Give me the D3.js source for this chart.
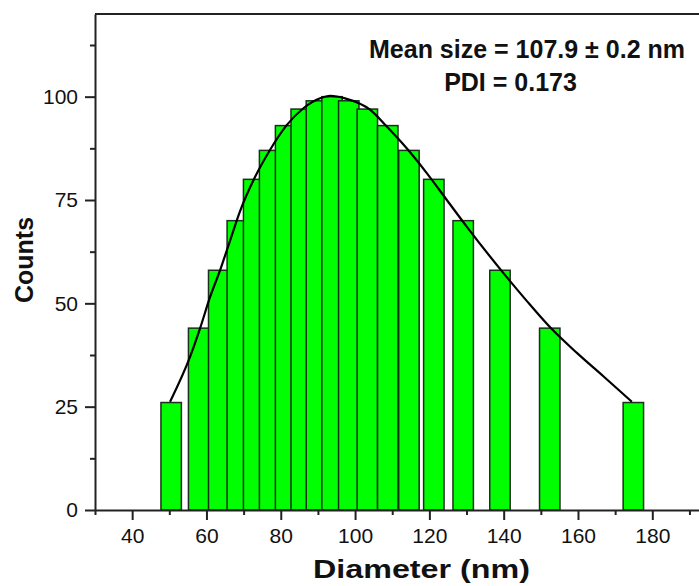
<!DOCTYPE html>
<html>
<head>
<meta charset="utf-8">
<script src="https://d3js.org/d3.v7.min.js"></script>
<style>
body { margin: 0; background: #fff; }
svg { display: block; font-family: Arial, "Liberation Sans", Helvetica, sans-serif; }
.axis text { font-size: 21px; fill: #111; }
.axis path, .axis line { stroke: #222; stroke-width: 2; }
</style>
</head>
<body>
<svg id="chart"></svg>
<script>
// histogram bars: centre diameter (nm) and counts
var barDiameters = [50.5, 57.9, 63.3, 68.3, 72.7, 77.0, 81.3, 85.5, 89.6, 93.8, 98.3, 103.3, 108.8, 114.5, 121.2, 129.1, 139.0, 152.4, 174.9];
var barCounts = [26, 44, 58, 70, 80, 87, 93, 97, 99, 100, 99, 97, 93, 87, 80, 70, 58, 44, 26];
var barWidthNm = 5.5;

// fitted curve, points
var fitDiameters = [50.2, 55.6, 58.3, 61.0, 63.7, 66.4, 69.0, 73.1, 77.1, 81.6, 86.1, 90.6, 93.3, 97.3, 104.1, 108.6, 113.9, 119.3, 124.7, 130.1, 139.5, 146.2, 152.5, 159.7, 166.9, 174.5];
var fitCounts = [26.2, 37.1, 44.0, 51.6, 58.1, 65.3, 72.2, 80.6, 87.1, 93.1, 97.2, 99.6, 100.2, 99.6, 96.8, 92.7, 87.5, 81.5, 75.0, 68.5, 57.8, 50.6, 44.2, 38.0, 32.3, 26.2];

var xMajorTicks = [40, 60, 80, 100, 120, 140, 160, 180];
var xMinorTicks = [30, 50, 70, 90, 110, 130, 150, 170, 190];
var yMajorTicks = [0, 25, 50, 75, 100];
var yMinorTicks = [12.5, 37.5, 62.5, 87.5, 112.5];

var width = 699, height = 586;
var svg = d3.select('#chart').attr('width', width).attr('height', height);

var x = d3.scaleLinear().domain([30, 200]).range([95, 726.6]);
var y = d3.scaleLinear().domain([0, 120]).range([510, 14]);

// bars (drawn left to right so later ones sit over earlier ones)
var bars = barDiameters.map(function(d, i) { return {d: d, c: barCounts[i]}; });
svg.append('g').selectAll('rect').data(bars).join('rect')
  .attr('x', function(b) { return x(b.d - barWidthNm / 2); })
  .attr('width', function(b) { return x(b.d + barWidthNm / 2) - x(b.d - barWidthNm / 2); })
  .attr('y', function(b) { return y(b.c); })
  .attr('height', function(b) { return y(0) - y(b.c); })
  .attr('fill', '#00ff00')
  .attr('stroke', '#1e2e1e')
  .attr('stroke-width', 1.5);

// fit curve
var fit = fitDiameters.map(function(d, i) { return [d, fitCounts[i]]; });
var line = d3.line().x(function(p) { return x(p[0]); }).y(function(p) { return y(p[1]); }).curve(d3.curveMonotoneX);
svg.append('path').datum(fit)
  .attr('fill', 'none').attr('stroke', '#000').attr('stroke-width', 2.2)
  .attr('d', line);

// frame top / right
svg.append('line').attr('x1', x(30)).attr('x2', x(200)).attr('y1', y(120)).attr('y2', y(120))
  .attr('stroke', '#222').attr('stroke-width', 2);
svg.append('line').attr('x1', x(200)).attr('x2', x(200)).attr('y1', y(120)).attr('y2', y(0))
  .attr('stroke', '#222').attr('stroke-width', 2);

// axes
var xAxis = d3.axisBottom(x).tickValues(xMajorTicks).tickSize(10).tickSizeOuter(0).tickPadding(8);
svg.append('g').attr('class', 'axis').attr('transform', 'translate(0,' + y(0) + ')').call(xAxis);
svg.append('g').attr('class', 'axis').attr('transform', 'translate(0,' + y(0) + ')')
  .call(d3.axisBottom(x).tickValues(xMinorTicks).tickSize(5).tickSizeOuter(0).tickFormat(''))
  .select('.domain').remove();

var yAxis = d3.axisLeft(y).tickValues(yMajorTicks).tickSize(10).tickSizeOuter(0).tickPadding(7);
svg.append('g').attr('class', 'axis').attr('transform', 'translate(' + x(30) + ',0)').call(yAxis);
svg.append('g').attr('class', 'axis').attr('transform', 'translate(' + x(30) + ',0)')
  .call(d3.axisLeft(y).tickValues(yMinorTicks).tickSize(5).tickSizeOuter(0).tickFormat(''))
  .select('.domain').remove();

// axis titles
svg.append('text').attr('transform', 'translate(33,260) rotate(-90)')
  .attr('text-anchor', 'middle').attr('font-size', 25).attr('font-weight', 'bold').attr('fill', '#111')
  .text('Counts');
svg.append('text').attr('x', 421.5).attr('y', 578)
  .attr('text-anchor', 'middle').attr('font-size', 25).attr('font-weight', 'bold').attr('fill', '#111')
  .attr('textLength', 217).attr('lengthAdjust', 'spacingAndGlyphs')
  .text('Diameter (nm)');

// annotation
svg.append('text').attr('x', 527).attr('y', 58)
  .attr('text-anchor', 'middle').attr('font-size', 25).attr('font-weight', 'bold').attr('fill', '#111')
  .text('Mean size = 107.9 \u00b1 0.2 nm');
svg.append('text').attr('x', 510.5).attr('y', 91)
  .attr('text-anchor', 'middle').attr('font-size', 25).attr('font-weight', 'bold').attr('fill', '#111')
  .text('PDI = 0.173');
</script>
</body>
</html>
